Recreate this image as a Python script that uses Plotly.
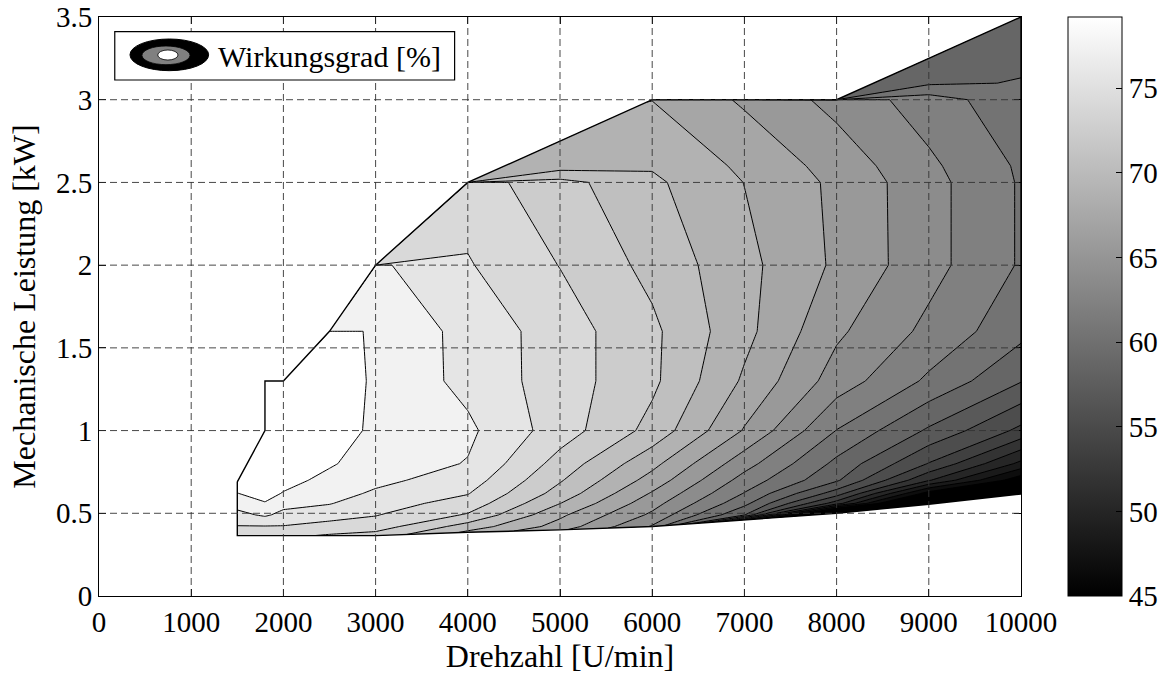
import plotly.graph_objects as go

# ---------------- data ----------------
# speed columns of the measurement grid [U/min] (1800 appears twice: step of the envelope)
speed = [1500, 1800, 1800, 2000, 2500, 3000, 4000, 5000, 6000, 7000, 8000, 9000, 10000]
# operating envelope: lowest / highest mechanical power per speed [kW]
p_min = [0.365, 0.365, 0.365, 0.365, 0.365, 0.365, 0.385, 0.40, 0.42, 0.46, 0.50, 0.555, 0.617]
p_max = [0.69, 1.0, 1.3, 1.3, 1.6, 2.0, 2.5, 2.75, 3.0, 3.0, 3.0, 3.25, 3.5]
# power rows of the grid [kW] (rows outside the envelope collapse onto it)
p_rows = [0.36, 0.42, 0.49, 0.56, 0.62, 0.7, 0.8, 1.0, 1.3, 1.6, 2.0, 2.5, 2.6, 3.0, 3.1, 3.5]

# efficiency [%] per speed column, one value per power row
eta_1500 = [72.87, 73.98, 75.27, 76.46, 77.46, 78.17, 78.17, 78.17, 78.17, 78.17, 78.17, 78.17, 78.17, 78.17, 78.17, 78.17]
eta_1800a = [72.87, 73.98, 76.04, 77.40, 78.00, 78.35, 78.52, 78.69, 78.69, 78.69, 78.69, 78.69, 78.69, 78.69, 78.69, 78.69]
eta_1800b = [72.87, 73.98, 76.04, 77.40, 78.00, 78.35, 78.52, 78.69, 78.86, 78.86, 78.86, 78.86, 78.86, 78.86, 78.86, 78.86]
eta_2000 = [72.70, 73.98, 75.27, 76.38, 77.40, 78.00, 78.35, 78.69, 78.77, 78.35, 78.35, 78.35, 78.35, 78.35, 78.35, 78.35]
eta_2500 = [72.19, 73.39, 74.84, 75.87, 76.46, 77.06, 77.66, 78.35, 78.52, 78.19, 77.15, 77.15, 77.15, 77.15, 77.15, 77.15]
eta_3000 = [71.68, 73.22, 74.16, 74.84, 75.52, 76.21, 76.72, 77.15, 77.23, 77.23, 76.12, 73.73, 73.73, 73.73, 73.73, 73.73]
eta_4000 = [68.60, 69.88, 72.19, 73.39, 74.16, 74.93, 75.69, 76.12, 75.27, 75.23, 74.21, 73.22, 68.09, 68.09, 68.09, 68.09]
eta_5000 = [65.86, 66.55, 67.57, 68.97, 69.97, 70.82, 71.68, 73.22, 73.22, 73.22, 72.31, 71.27, 68.09, 67.74, 67.74, 67.74]
eta_6000 = [61.93, 61.93, 63.47, 64.49, 65.35, 66.55, 67.74, 70.09, 71.01, 71.01, 70.14, 69.28, 68.77, 67.20, 67.20, 67.20]
eta_7000 = [50.30, 50.30, 57.06, 59.19, 60.30, 61.42, 62.78, 65.38, 66.97, 67.73, 67.73, 67.20, 66.89, 65.26, 65.26, 65.26]
eta_8000 = [38.50, 38.50, 38.50, 50.99, 54.41, 57.23, 58.25, 60.34, 63.02, 64.12, 65.23, 65.16, 64.84, 63.25, 58.34, 57.83]
eta_9000 = [36.79, 36.79, 36.79, 37.99, 44.15, 50.30, 53.46, 56.71, 60.08, 61.67, 62.70, 62.70, 62.44, 61.25, 58.42, 57.65]
eta_10000 = [37.13, 37.13, 37.13, 37.13, 37.48, 43.80, 47.98, 53.11, 57.07, 59.19, 60.22, 60.22, 60.13, 59.21, 58.77, 57.65]

# contour levels and colour axis
level_start, level_end, level_step = 34.74, 77.49, 1.71
c_min, c_max = 45.0, 79.2

x_ticks = list(range(0, 10001, 1000))
x_labels = [str(v) for v in x_ticks]
y_ticks = [0, 0.5, 1, 1.5, 2, 2.5, 3, 3.5]
cb_ticks = [45, 50, 55, 60, 65, 70, 75]

# ---------------- build grid ----------------
columns = [eta_1500, eta_1800a, eta_1800b, eta_2000, eta_2500, eta_3000, eta_4000,
           eta_5000, eta_6000, eta_7000, eta_8000, eta_9000, eta_10000]
nA, nB = len(speed), len(p_rows)
a_idx = list(range(nA))
b_idx = list(range(nB))
Z = [[columns[j][i] for j in range(nA)] for i in range(nB)]
X = [[speed[j] for j in range(nA)] for i in range(nB)]
Y = [[min(max(p_rows[i], p_min[j]), p_max[j]) for j in range(nA)] for i in range(nB)]

# band colours (MATLAB-like gray map over [c_min, c_max])
nc = int((level_end + level_step / 1e6 - level_start) // level_step) + 1


def gray(v):
    v = max(0.0, min(1.0, v))
    g = int(round(255 * v))
    return f"rgb({g},{g},{g})"


cscale = [[0.0, gray(0)]]
for i in range(nc):
    lev_top = level_start + (i + 1) * level_step
    cscale.append([(i + 1) / nc, gray((lev_top - c_min) / (c_max - c_min))])
cscale[-1][0] = 1.0

FONT = "Liberation Serif"

fig = go.Figure()

hidden_axis = dict(showgrid=False, showline=False, showticklabels="none",
                   startline=False, endline=False, minorgridcount=0, smoothing=0)
fig.add_trace(go.Carpet(a=a_idx, b=b_idx, x=X, y=Y, carpet="grid",
                        aaxis=hidden_axis, baxis=hidden_axis))

fig.add_trace(go.Contourcarpet(
    a=a_idx, b=b_idx, z=Z, carpet="grid", autocontour=False,
    contours=dict(start=level_start, end=level_end, size=level_step,
                  coloring="fill", showlines=True),
    line=dict(color="black", width=1.0, smoothing=0),
    colorscale=cscale, showscale=False))

# envelope outline
ox = speed + speed[::-1] + [speed[0]]
oy = p_max + p_min[::-1] + [p_max[0]]
fig.add_trace(go.Scatter(x=ox, y=oy, mode="lines", line=dict(color="black", width=1.4),
                         showlegend=False, hoverinfo="skip"))

# colour bar (smooth gray map)
CB_X, CB_THICK = 1.051, 54
fig.add_trace(go.Scatter(
    x=[None], y=[None], mode="markers", showlegend=False, hoverinfo="skip",
    marker=dict(color=[c_min], cmin=c_min, cmax=c_max,
                colorscale=[[0, "black"], [1, "white"]], showscale=True,
                colorbar=dict(x=CB_X, xanchor="left", xpad=0, y=0.5, yanchor="middle",
                              ypad=0, len=1, lenmode="fraction", thickness=CB_THICK,
                              thicknessmode="pixels", outlinecolor="black", outlinewidth=1,
                              tickvals=cb_ticks, ticks="inside", ticklen=6,
                              tickcolor="black",
                              tickfont=dict(family=FONT, size=29, color="black")))))

shapes = []
grid_style = dict(color="#333333", width=0.9, dash="7px,4px")
for xv in x_ticks[1:-1]:
    shapes.append(dict(type="line", xref="x", yref="y", x0=xv, x1=xv, y0=y_ticks[0],
                       y1=y_ticks[-1], line=grid_style, layer="above"))
for yv in y_ticks[1:-1]:
    shapes.append(dict(type="line", xref="x", yref="y", x0=x_ticks[0], x1=x_ticks[-1],
                       y0=yv, y1=yv, line=grid_style, layer="above"))

# tick marks on the left edge of the colour bar
plot_w = 1168 - 99 - 147
for v in cb_ticks[1:]:
    yy = (v - c_min) / (c_max - c_min)
    shapes.append(dict(type="line", xref="paper", yref="paper", x0=CB_X,
                       x1=CB_X + 6 / plot_w, y0=yy, y1=yy,
                       line=dict(color="black", width=1), layer="above"))

# legend box with contour icon
shapes.append(dict(type="rect", xref="paper", yref="paper", x0=0.0171, x1=0.3857,
                   y0=0.8912, y1=0.9746, fillcolor="white",
                   line=dict(color="black", width=1.2), layer="above"))
shapes.append(dict(type="circle", xref="paper", yref="paper", x0=0.0336, x1=0.1189,
                   y0=0.9073, y1=0.962, fillcolor="black",
                   line=dict(color="black", width=1), layer="above"))
shapes.append(dict(type="circle", xref="paper", yref="paper", x0=0.0466, x1=0.0987,
                   y0=0.9177, y1=0.9499, fillcolor="rgb(128,128,128)",
                   line=dict(color="black", width=0.8), layer="above"))
shapes.append(dict(type="circle", xref="paper", yref="paper", x0=0.0637, x1=0.0857,
                   y0=0.9257, y1=0.943, fillcolor="white",
                   line=dict(color="black", width=0.8), layer="above"))

fig.update_layout(
    width=1168, height=678,
    margin=dict(l=99, r=147, t=17, b=82, autoexpand=False),
    paper_bgcolor="white", plot_bgcolor="white",
    font=dict(family=FONT, size=29, color="black"),
    shapes=shapes,
    annotations=[dict(xref="paper", yref="paper", x=0.1269, y=0.9326, xanchor="left",
                      yanchor="middle", text="Wirkungsgrad [%]", showarrow=False,
                      font=dict(family=FONT, size=30, color="black"))],
    xaxis=dict(range=[0, 10000], tickvals=x_ticks, ticktext=x_labels, ticks="inside",
               ticklen=7, tickcolor="black", showline=True, linecolor="black", linewidth=1,
               mirror="allticks", showgrid=False, zeroline=False,
               tickfont=dict(family=FONT, size=29),
               title=dict(text="Drehzahl [U/min]", font=dict(family=FONT, size=32),
                          standoff=4)),
    yaxis=dict(range=[0, 3.5], tickvals=y_ticks, ticks="inside", ticklen=7,
               tickcolor="black", showline=True, linecolor="black", linewidth=1,
               mirror="allticks", showgrid=False, zeroline=False,
               tickfont=dict(family=FONT, size=29),
               title=dict(text="Mechanische Leistung [kW]", font=dict(family=FONT, size=32),
                          standoff=10)),
)

fig.write_html("out.html")
